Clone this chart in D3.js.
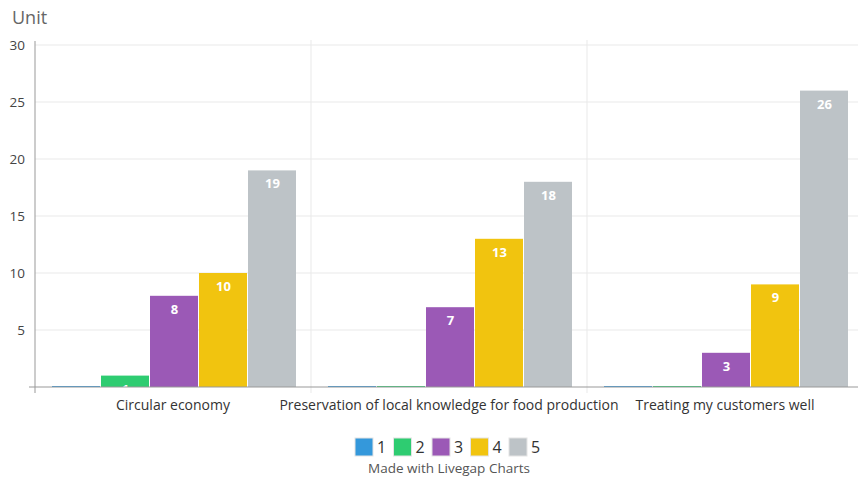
<!DOCTYPE html>
<html>
<head>
<meta charset="utf-8">
<script src="https://cdn.jsdelivr.net/npm/d3@7"></script>
<style>
  body { margin: 0; background: #fff; }
  text { font-family: 'Open Sans', sans-serif; }
</style>
</head>
<body>
<div id="chart"></div>
<script>
const categories = ['Circular economy', 'Preservation of local knowledge for food production', 'Treating my customers well']
const seriesNames = ['1', '2', '3', '4', '5']
const seriesValues = [
  [0, 0, 0],
  [1, 0, 0],
  [8, 7, 3],
  [10, 13, 9],
  [19, 18, 26]
]
const yTicks = [5, 10, 15, 20, 25, 30]
const segColor = ['#3498db', '#2ecc71', '#9b59b6', '#f1c40f', '#bdc3c7']

const width = 858
const height = 477
const plotLeft = 35
const plotTop = 45
const plotBottom = 387

const svg = d3.select('#chart').append('svg')
  .attr('width', width)
  .attr('height', height)

const x = d3.scaleBand()
  .domain(categories)
  .range([plotLeft, 863])

const xInner = d3.scaleBand()
  .domain(seriesNames)
  .range([17, x.bandwidth() - 14])

const y = d3.scaleLinear()
  .domain([0, 30])
  .range([plotBottom, plotTop])

// gridlines
svg.append('g')
  .selectAll('line')
  .data(yTicks)
  .enter().append('line')
  .attr('x1', plotLeft).attr('x2', width)
  .attr('y1', d => y(d)).attr('y2', d => y(d))
  .attr('stroke', '#e9e9e9')

svg.append('g')
  .selectAll('line')
  .data(categories.slice(1))
  .enter().append('line')
  .attr('x1', d => x(d)).attr('x2', d => x(d))
  .attr('y1', 40).attr('y2', plotBottom + 6)
  .attr('stroke', '#e9e9e9')

// y axis labels
const yAxis = d3.axisLeft(y).tickValues(yTicks).tickSize(0).tickPadding(10)
const yg = svg.append('g')
  .attr('transform', 'translate(' + plotLeft + ',0)')
  .call(yAxis)
yg.select('.domain').remove()
yg.selectAll('text')
  .style('font-size', '13.5px')
  .style('fill', '#444')
  .style('font-family', "'Open Sans', sans-serif")

svg.append('line')
  .attr('x1', plotLeft).attr('x2', plotLeft)
  .attr('y1', 41).attr('y2', plotBottom + 6)
  .attr('stroke', '#999')

// bars
const groups = svg.selectAll('.grp')
  .data(categories)
  .enter().append('g')
  .attr('class', 'grp')
  .attr('transform', d => 'translate(' + x(d) + ',0)')

const zipped = (ci) => seriesNames.map((s, si) => ({ s, si, v: seriesValues[si][ci] }))

groups.each(function (cat, ci) {
  const g = d3.select(this)
  const d = zipped(ci)
  g.selectAll('rect')
    .data(d)
    .enter().append('rect')
    .attr('x', e => xInner(e.s))
    .attr('width', xInner.bandwidth() - 1)
    .attr('y', e => e.v === 0 ? plotBottom - 1 : y(e.v))
    .attr('height', e => e.v === 0 ? 1 : plotBottom - y(e.v))
    .attr('fill', e => segColor[e.si])
  g.selectAll('text')
    .data(d)
    .enter().append('text')
    .attr('x', e => xInner(e.s) + xInner.bandwidth() / 2)
    .attr('y', e => y(e.v) + 18)
    .attr('text-anchor', 'middle')
    .style('font-size', '13px')
    .style('font-weight', 'bold')
    .style('fill', '#fff')
    .text(e => e.v)
})

// x axis line
svg.append('line')
  .attr('x1', 29).attr('x2', width)
  .attr('y1', plotBottom).attr('y2', plotBottom)
  .attr('stroke', '#999')

// category labels
svg.append('g')
  .selectAll('text')
  .data(categories)
  .enter().append('text')
  .attr('x', d => x(d) + x.bandwidth() / 2)
  .attr('y', 410)
  .attr('text-anchor', 'middle')
  .style('font-size', '14px')
  .style('fill', '#333')
  .text(d => d)

// axis title
svg.append('text')
  .attr('x', 12).attr('y', 24)
  .style('font-size', '18px')
  .style('fill', '#666')
  .text('Unit')

// legend
const legendRectSize = 18
const legendStep = 38.5
const legend = svg.selectAll('.legend')
  .data(seriesNames)
  .enter().append('g')
  .attr('class', 'legend')
  .attr('transform', (d, i) => 'translate(' + (355 + i * legendStep) + ',438)')

legend.append('rect')
  .attr('width', legendRectSize)
  .attr('height', legendRectSize)
  .attr('fill', (d, i) => segColor[i])
  .attr('stroke', '#e4e4e4')

legend.append('text')
  .attr('x', legendRectSize + 4)
  .attr('y', 15)
  .style('font-size', '16px')
  .style('fill', '#333')
  .text(d => d)

svg.append('text')
  .attr('x', 449).attr('y', 473)
  .attr('text-anchor', 'middle')
  .style('font-size', '13.5px')
  .style('fill', '#555')
  .text('Made with Livegap Charts')
</script>
</body>
</html>
